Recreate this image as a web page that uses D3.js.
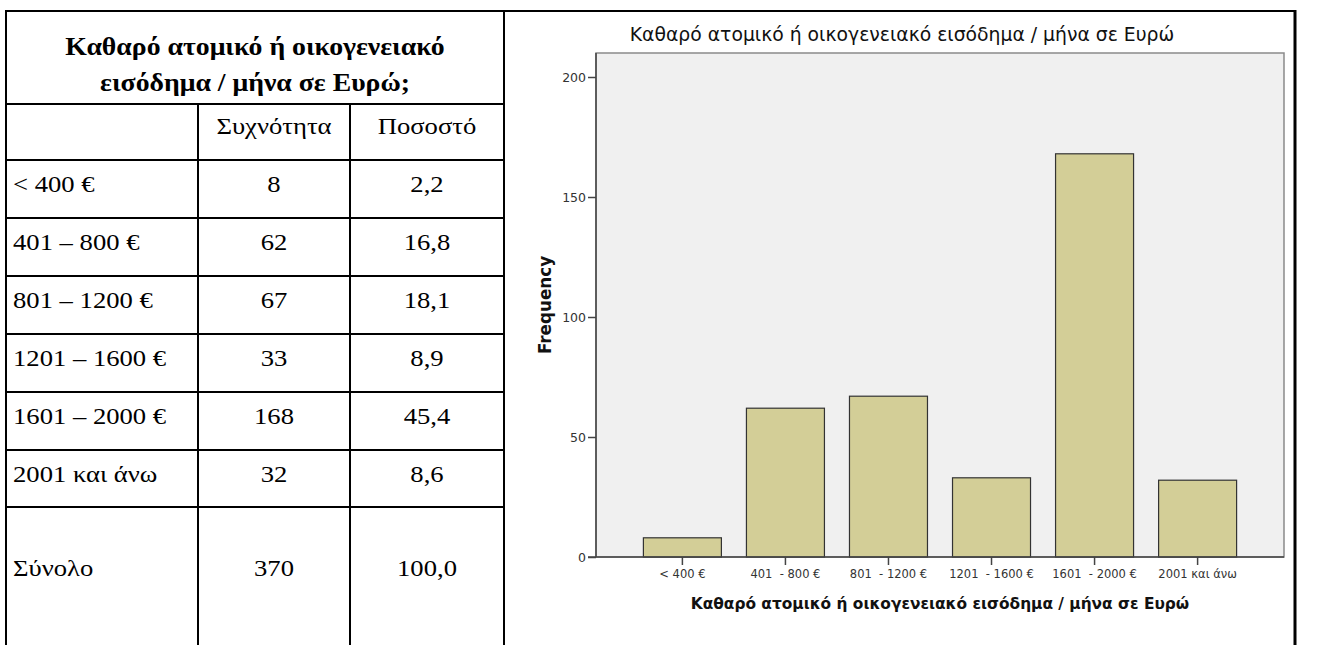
<!DOCTYPE html>
<html>
<head>
<meta charset="utf-8">
<script src="https://cdn.jsdelivr.net/npm/d3@7"></script>
<style>
  body { margin: 0; background: #fff; }
</style>
</head>
<body>
<div id="chart"></div>
<script>
const width = 1317;
const height = 645;

// data
const tableTitle = ["Καθαρό ατομικό ή οικογενειακό", "εισόδημα / μήνα σε Ευρώ;"];
const colHeaders = ["Συχνότητα", "Ποσοστό"];
const rowLabels = ["< 400 €", "401 – 800 €", "801 – 1200 €", "1201 – 1600 €", "1601 – 2000 €", "2001 και άνω"];
const barLabels = ["< 400 €", "401  - 800 €", "801  - 1200 €", "1201  - 1600 €", "1601  - 2000 €", "2001 και άνω"];
const frequencies = [8, 62, 67, 33, 168, 32];
const percents = [2.2, 16.8, 18.1, 8.9, 45.4, 8.6];
const totalLabel = "Σύνολο";
const totalFreq = 370;
const totalPct = 100.0;
const yTicks = [0, 50, 100, 150, 200];
const chartTitle = "Καθαρό ατομικό ή οικογενειακό εισόδημα / μήνα σε Ευρώ";

const svg = d3.select("#chart").append("svg")
    .attr("width", width)
    .attr("height", height)
    .style("display", "block");

const fmtPct = v => v.toFixed(1).replace(".", ",");

// the scanned table text is a bit wider than it is tall
const sx = 1.11;
function putText(g, x, y, txt, anchor, bold) {
    return g.append("text")
        .attr("transform", `translate(${x},${y}) scale(${sx},1)`)
        .attr("text-anchor", anchor)
        .attr("font-weight", bold ? "bold" : "normal")
        .text(txt);
}

// ---- table on the left ----
const colX = [6, 198, 350, 504];
const rowY = [11, 104, 160, 218, 276, 334, 392, 450, 507];
const tbl = svg.append("g")
    .attr("font-family", "'Liberation Serif', 'Times New Roman', serif")
    .attr("font-size", 24)
    .attr("fill", "#000");

tableTitle.forEach((t, i) => putText(tbl, (colX[0] + colX[3]) / 2, 55 + i * 36, t, "middle", true)
    .attr("font-size", 25));
colHeaders.forEach((t, i) => putText(tbl, (colX[i + 1] + colX[i + 2]) / 2, 134, t, "middle", false));

const rows = rowLabels.map((l, i) => ({ label: l, f: frequencies[i], p: fmtPct(percents[i]), base: rowY[i + 2] + 32 }));
rows.push({ label: totalLabel, f: totalFreq, p: fmtPct(totalPct), base: 576 });

rows.forEach(r => {
    putText(tbl, 13, r.base, r.label, "start", false);
    putText(tbl, (colX[1] + colX[2]) / 2, r.base, r.f, "middle", false);
    putText(tbl, (colX[2] + colX[3]) / 2, r.base, r.p, "middle", false);
});

// grid lines
const lineStyle = sel => sel.attr("stroke", "#000").attr("stroke-width", 2);
lineStyle(tbl.append("line").attr("x1", colX[0]).attr("x2", 1296).attr("y1", 11).attr("y2", 11));
rowY.slice(1).forEach(y => {
    lineStyle(tbl.append("line").attr("x1", colX[0]).attr("x2", colX[3]).attr("y1", y).attr("y2", y));
});
[colX[0], colX[3]].forEach(x => {
    lineStyle(tbl.append("line").attr("x1", x).attr("x2", x).attr("y1", 10).attr("y2", height));
});
[colX[1], colX[2]].forEach(x => {
    lineStyle(tbl.append("line").attr("x1", x).attr("x2", x).attr("y1", 104).attr("y2", height));
});
lineStyle(tbl.append("line").attr("x1", 1295).attr("x2", 1295).attr("y1", 10).attr("y2", height))
    .attr("stroke-width", 3);

// ---- bar chart on the right ----
const plot = { left: 596, right: 1284, top: 53, bottom: 557 };
const sans = "'DejaVu Sans', Verdana, sans-serif";

const x = d3.scaleBand()
    .domain(barLabels)
    .range([plot.left, plot.right])
    .paddingInner(0.243)
    .paddingOuter(0.46);

const y = d3.scaleLinear()
    .domain([0, 210])
    .range([plot.bottom, plot.top]);

const chart = svg.append("g").attr("font-family", sans);

chart.append("rect")
    .attr("x", plot.left)
    .attr("y", plot.top)
    .attr("width", plot.right - plot.left)
    .attr("height", plot.bottom - plot.top)
    .attr("fill", "#f0f0f0")
    .attr("stroke", "#8a8a8a")
    .attr("stroke-width", 1.5);

chart.selectAll("rect.bar")
    .data(frequencies)
    .enter().append("rect")
    .attr("class", "bar")
    .attr("x", (d, i) => x(barLabels[i]))
    .attr("y", d => y(d))
    .attr("width", x.bandwidth())
    .attr("height", d => y(0) - y(d))
    .attr("fill", "#d3ce97")
    .attr("stroke", "#333")
    .attr("stroke-width", 1.2);

const yAxis = chart.append("g")
    .attr("transform", `translate(${plot.left},0)`)
    .call(d3.axisLeft(y).tickValues(yTicks).tickSize(8).tickPadding(2));
yAxis.select(".domain").attr("stroke", "#444").attr("stroke-width", 1.5)
    .attr("d", `M0,${plot.top}V${plot.bottom}`);
yAxis.selectAll(".tick line").attr("stroke", "#444").attr("stroke-width", 1.5);
yAxis.selectAll(".tick text").attr("font-size", 12.5).attr("fill", "#333")
    .attr("font-family", sans);

const xAxis = chart.append("g")
    .attr("transform", `translate(0,${plot.bottom})`)
    .call(d3.axisBottom(x).tickSize(8).tickPadding(5));
xAxis.select(".domain").attr("stroke", "#444").attr("stroke-width", 1.5)
    .attr("d", `M${plot.left - 8},0H${plot.right}`);
xAxis.selectAll(".tick line").attr("stroke", "#444").attr("stroke-width", 1.5);
xAxis.selectAll(".tick text").attr("font-size", 11.5).attr("fill", "#333")
    .attr("font-family", sans)
    .style("white-space", "pre");

chart.append("text")
    .attr("x", 902)
    .attr("y", 41)
    .attr("text-anchor", "middle")
    .attr("font-size", 18.8)
    .attr("fill", "#111")
    .text(chartTitle);

chart.append("text")
    .attr("x", (plot.left + plot.right) / 2)
    .attr("y", 609)
    .attr("text-anchor", "middle")
    .attr("font-size", 15.4)
    .attr("font-weight", "bold")
    .attr("fill", "#111")
    .text(chartTitle);

chart.append("text")
    .attr("transform", "translate(551,305) rotate(-90)")
    .attr("text-anchor", "middle")
    .attr("font-size", 16.8)
    .attr("font-weight", "bold")
    .attr("fill", "#111")
    .text("Frequency");
</script>
</body>
</html>
